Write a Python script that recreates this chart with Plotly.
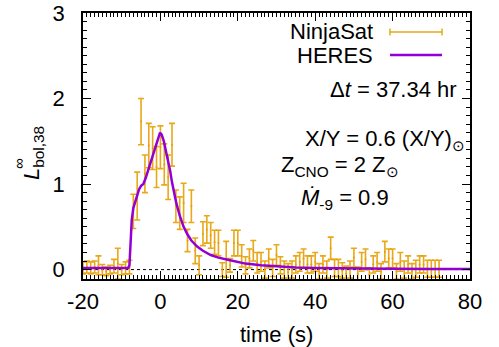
import plotly.graph_objects as go

# NinjaSat light curve (1 s bins)
time_s = list(range(-20, 73))
ninja_val = [0.02, 0.03, 0.02, 0.03, 0.05, 0.0, -0.02, 0.0, 0.04, 0.07, 0.0, 0.02, 0.03,
             0.68, 0.86, 1.73, 1.12, 1.45, 1.42, 1.20, 1.43, 1.23, 1.08, 1.46,
             0.74, 0.66, 0.78, 0.34, 0.74, 0.22, 0.05, 0.42, 0.47, 0.40, 0.32, 0.31,
             0.0, 0.12, 0.05, 0.31, 0.31, 0.16, 0.05, 0.13,
             0.22, 0.08, 0.09, 0.0, 0.13, 0.02, 0.17, 0.05, 0.0, -0.03, 0.0, 0.06,
             0.09, 0.13, 0.06, 0.06, 0.09, -0.02, 0.06, 0.0, 0.25, 0.02, 0.02, -0.01,
             -0.05, 0.0, 0.14, -0.05, 0.09, 0.12, -0.06, 0.06, 0.09, -0.02, 0.21, 0.13,
             0.13, -0.02, 0.09, 0.0, 0.06, -0.02, 0.01, 0.06, 0.06, 0.01, 0.01, 0.01, 0.01]
ninja_err = [0.07, 0.07, 0.07, 0.07, 0.11, 0.06, 0.05, 0.05, 0.08, 0.18, 0.06, 0.07, 0.08,
             0.20, 0.28, 0.27, 0.22, 0.26, 0.25, 0.24, 0.25, 0.24, 0.26, 0.25,
             0.19, 0.19, 0.23, 0.13, 0.19, 0.15, 0.11, 0.14, 0.16, 0.15, 0.14, 0.15,
             0.08, 0.21, 0.08, 0.15, 0.15, 0.13, 0.10, 0.11,
             0.12, 0.12, 0.11, 0.10, 0.11, 0.10, 0.12, 0.10, 0.10, 0.10, 0.10, 0.10,
             0.11, 0.11, 0.10, 0.10, 0.11, 0.09, 0.10, 0.10, 0.13, 0.10, 0.10, 0.09,
             0.09, 0.10, 0.11, 0.08, 0.11, 0.12, 0.08, 0.10, 0.11, 0.09, 0.12, 0.11,
             0.11, 0.09, 0.11, 0.10, 0.10, 0.09, 0.10, 0.10, 0.10, 0.10, 0.10, 0.10, 0.10]

# HERES model curve
model_t = [-20, -8.3, -8.0, -7.7, -7.4, -7.0, -6.5, -6.0, -5.5, -5.0, -4.4, -3.8, -3.1,
           -2.4, -1.8, -1.2, -0.6, -0.1, 0.3, 0.9, 1.5, 2.0, 2.5, 3.0, 3.5, 4.1, 5.0,
           6.0, 7.0, 8.0, 9.5, 11, 13, 15, 18, 22, 26, 30, 35, 40, 50, 60, 70, 80]
model_v = [0.02, 0.02, 0.05, 0.30, 0.58, 0.72, 0.80, 0.88, 0.94, 0.98, 1.00, 1.07, 1.17,
           1.28, 1.37, 1.46, 1.54, 1.60, 1.58, 1.50, 1.37, 1.27, 1.16, 1.02, 0.90, 0.78, 0.63,
           0.50, 0.41, 0.34, 0.27, 0.22, 0.17, 0.14, 0.11, 0.07, 0.05, 0.035, 0.025, 0.02,
           0.012, 0.01, 0.008, 0.008]

x_ticks = [-20, 0, 20, 40, 60, 80]
y_ticks = [0, 1, 2, 3]

ORANGE = "rgba(230,159,0,0.9)"
PURPLE = "#9400D3"
FONT = "Liberation Sans, Arial, sans-serif"
FS = 22

fig = go.Figure()
fig.add_trace(go.Scatter(
    x=time_s, y=ninja_val, mode="markers",
    marker=dict(size=2, color=ORANGE),
    error_y=dict(type="data", array=ninja_err, visible=True, color=ORANGE,
                 thickness=1.6, width=3),
    showlegend=False, hoverinfo="skip"))
fig.add_trace(go.Scatter(
    x=model_t, y=model_v, mode="lines",
    line=dict(color=PURPLE, width=2.5), showlegend=False))

# zero reference line
fig.add_shape(type="line", xref="paper", yref="y", x0=0, x1=1, y0=0, y1=0,
              line=dict(color="black", width=1, dash="dot"), layer="below")

L, R, T, B = 83, 29, 13, 68
W, H = 499, 347
PW, PH = W - L - R, H - T - B

def px(x):
    return (x - L) / PW

def py(y):
    return (H - B - y) / PH

ann = []
# legend (gnuplot style: text on left, sample on right)
ann.append(dict(x=px(375), y=py(31), text="NinjaSat", xanchor="right", yanchor="middle"))
ann.append(dict(x=px(375), y=py(55), text="HERES", xanchor="right", yanchor="middle"))
fig.add_shape(type="line", xref="paper", yref="paper", x0=px(390), x1=px(442),
              y0=py(32), y1=py(32), line=dict(color=ORANGE, width=1.5))
for xx in (390, 442):
    fig.add_shape(type="line", xref="paper", yref="paper", x0=px(xx), x1=px(xx),
                  y0=py(28.5), y1=py(35.5), line=dict(color=ORANGE, width=1.5))
fig.add_shape(type="line", xref="paper", yref="paper", x0=px(390), x1=px(442),
              y0=py(55), y1=py(55), line=dict(color=PURPLE, width=2.5))

ann.append(dict(x=px(459), y=py(89), text="Δ<i>t</i> = 37.34 hr", xanchor="right", yanchor="middle"))
ann.append(dict(x=px(467), y=py(140), text="X/Y = 0.6 (X/Y)<sub>⊙</sub>", xanchor="right", yanchor="middle"))
ann.append(dict(x=px(340), y=py(166), text="Z<sub>CNO</sub> = 2 Z<sub>⊙</sub>", xanchor="center", yanchor="middle"))
ann.append(dict(x=px(345), y=py(199), text="<i>Ṁ</i><sub>-9</sub> = 0.9", xanchor="center", yanchor="middle"))
# y-axis title
ann.append(dict(x=px(33), y=py(153), text="<i>L</i><sub>bol,38</sub>", textangle=-90,
                xanchor="center", yanchor="middle"))
ann.append(dict(x=px(18), y=py(164), text="∞", textangle=-90, xanchor="center", yanchor="middle",
                font=dict(size=15)))
# x-axis title
ann.append(dict(x=px(276), y=py(334), text="time (s)", xanchor="center", yanchor="middle"))
for a in ann:
    a.update(xref="paper", yref="paper", showarrow=False)
    a.setdefault("font", dict(size=FS))
    a["font"].setdefault("size", FS)
    a["font"].update(family=FONT, color="black")
fig.update_layout(annotations=ann)

axis_common = dict(showline=True, linecolor="black", linewidth=1.5, mirror="allticks",
                   ticks="inside", ticklen=8, tickwidth=1.2, tickcolor="black",
                   showgrid=False, zeroline=False, automargin=False,
                   tickfont=dict(family=FONT, size=FS, color="black"))
fig.update_xaxes(range=[-20, 80], tickvals=x_ticks, ticktext=[str(v) for v in x_ticks],
                 minor=dict(ticks="inside", dtick=1, tick0=0, ticklen=4, tickwidth=1, tickcolor="black"),
                 ticklabelstandoff=2, **axis_common)
fig.update_yaxes(range=[-0.11, 3], tickvals=y_ticks, ticktext=[str(v) for v in y_ticks],
                 minor=dict(ticks="inside", dtick=0.1, tick0=0, ticklen=4, tickwidth=1, tickcolor="black"),
                 ticklabelstandoff=12, **axis_common)
fig.update_layout(width=W, height=H, margin=dict(l=L, r=R, t=T, b=B),
                  paper_bgcolor="white", plot_bgcolor="white")
fig.write_html("out.html")
